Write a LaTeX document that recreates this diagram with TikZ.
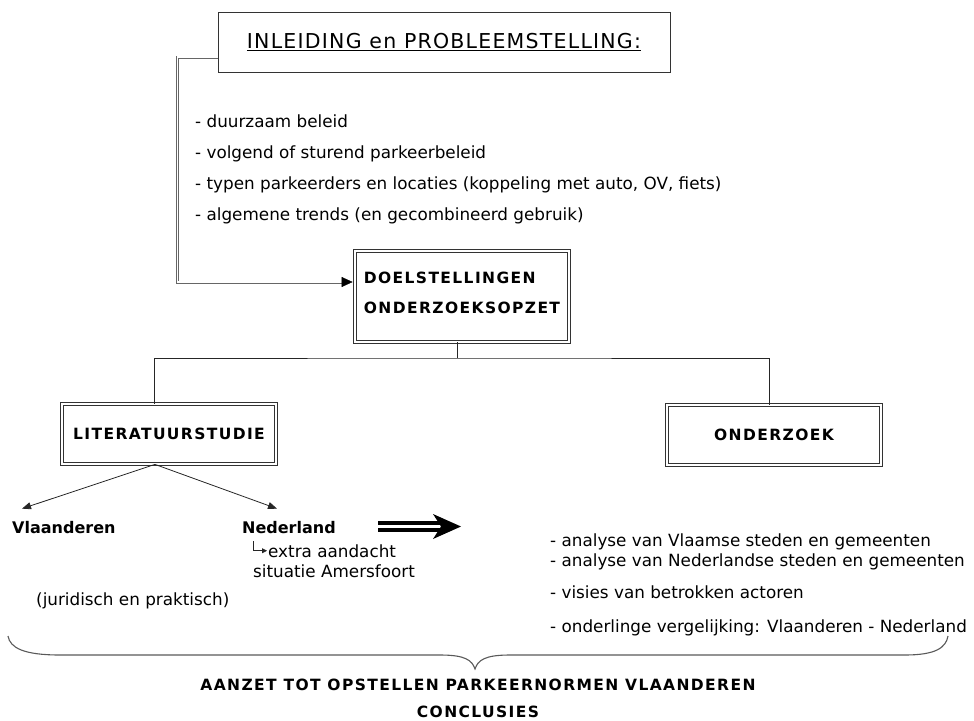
\documentclass[tikz,border=0pt]{standalone}
\usepackage{fontspec}
\setmainfont{DejaVu Sans}
\newfontfamily\headfont[LetterSpace=6]{DejaVu Sans}
\newfontfamily\labelfont[LetterSpace=9]{DejaVu Sans}
\usetikzlibrary{arrows.meta,positioning}
\tikzset{
  listtext/.style={anchor=base west, inner sep=0pt, font=\fontsize{16.8pt}{20pt}\selectfont},
  boldtext/.style={anchor=base west, inner sep=0pt, font=\fontsize{16pt}{19pt}\selectfont\bfseries},
  labeltext/.style={inner sep=0pt, font=\labelfont\fontsize{15.5pt}{30pt}\selectfont\bfseries},
  dblbox/.style={rectangle, draw=black!80, double=white, double distance=1.6pt, line width=0.8pt, minimum width=214pt, labeltext},
  treeline/.style={draw=black!85, line width=0.9pt},
  thinarrow/.style={draw=black!85, line width=0.8pt, -{Triangle[length=9pt,width=7pt]}}
}
\begin{document}
\begin{tikzpicture}[x=1pt,y=-1pt]
\useasboundingbox (0,0) rectangle (974,720);
\node[rectangle, draw=black!80, line width=0.9pt, minimum width=452pt, minimum height=60pt, inner sep=0pt] at (444,42) (Inl) {\headfont\fontsize{20.5pt}{24pt}\selectfont\underline{INLEIDING en PROBLEEMSTELLING:}};
% lijst onder de inleiding
\node[listtext] at (195,127) (T1) {- duurzaam beleid};
\node[listtext] at ([yshift=-31pt]T1.base west) (T2) {- volgend of sturend parkeerbeleid};
\node[listtext] at ([yshift=-31pt]T2.base west) (T3) {- typen parkeerders en locaties (koppeling met auto, OV, fiets)};
\node[listtext] at ([yshift=-31pt]T3.base west) (T4) {- algemene trends (en gecombineerd gebruik)};
\node[dblbox, minimum height=91pt, align=left, text depth=8pt] at (462,296.5) (Doel) {DOELSTELLINGEN\\ONDERZOEKSOPZET};
\node[dblbox, minimum height=60pt] at (169,434) (Lit) {LITERATUURSTUDIE};
\node[dblbox, minimum height=60pt] at (774,435) (Ond) {ONDERZOEK};
% dubbele verbinding naar doelstellingen
\node[shape=coordinate] at ([xshift=-12pt,yshift=14.5pt]Doel.west) (P1) {};
\draw[draw=black!60, double=white, double distance=1.4pt, line width=0.8pt] ([yshift=-15pt]Inl.west) -- ++(-40,0) |- (P1);
\draw[draw=black, -{Triangle[length=11pt,width=10pt]}] ([xshift=-1pt]P1) -- ([xshift=-2pt,yshift=14.5pt]Doel.west);
% boom
\node[shape=coordinate] at (457,358) (S1) {};
\draw[treeline] ([xshift=-5pt]Doel.south) -- (S1);
\draw[treeline] ([xshift=-15pt]Lit.north) |- (S1) -| ([xshift=-5pt]Ond.north);
% literatuurstudie
\node[boldtext] at (12,533) (Vla) {Vlaanderen};
\node[boldtext] at (242,533) (Ned) {Nederland};
\draw[thinarrow] ([xshift=-14pt]Lit.south) -- ([xshift=10pt,yshift=12pt]Vla.north west);
\draw[thinarrow] ([xshift=-14pt]Lit.south) -- ([xshift=35pt,yshift=12pt]Ned.north west);
\node[listtext] at (268,557) (Ext) {extra aandacht};
\node[listtext] at (253,577) (Sit) {situatie Amersfoort};
\draw[draw=black!85, line width=0.8pt, -{Triangle[length=5pt,width=5pt]}, shorten >=1pt] ([xshift=11pt,yshift=-8pt]Ned.base west) |- (Ext.west);
\node[listtext] at (36,605) (Jur) {(juridisch en praktisch)};
% grote pijl
\fill (378,521) rectangle (445,525);
\fill (378,528) rectangle (445,532);
\fill (433,514) -- (461,526.5) -- (433,539) -- (441,526.5) -- cycle;
% onderzoek
\node[listtext] at (550,546) (R1) {- analyse van Vlaamse steden en gemeenten};
\node[listtext] at ([yshift=-20pt]R1.base west) (R2) {- analyse van Nederlandse steden en gemeenten};
\node[listtext] at ([yshift=-32pt]R2.base west) (R3) {- visies van betrokken actoren};
\node[listtext] at ([yshift=-34pt]R3.base west) (R4) {- onderlinge vergelijking: Vlaanderen - Nederland};
% accolade
\draw[draw=black!65, line width=1.1pt] (8,636) .. controls (10,648) and (24,655) .. (60,655) -- (440,655) .. controls (465,655) and (472,660) .. (475,669) .. controls (478,660) and (485,655) .. (510,655) -- (905,655) .. controls (935,655) and (946,648) .. (948,636);
\node[labeltext, anchor=base] at (478,690) (Aanz) {AANZET TOT OPSTELLEN PARKEERNORMEN VLAANDEREN};
\node[labeltext, anchor=base] at (478,717) (Concl) {CONCLUSIES};
\end{tikzpicture}
\end{document}
